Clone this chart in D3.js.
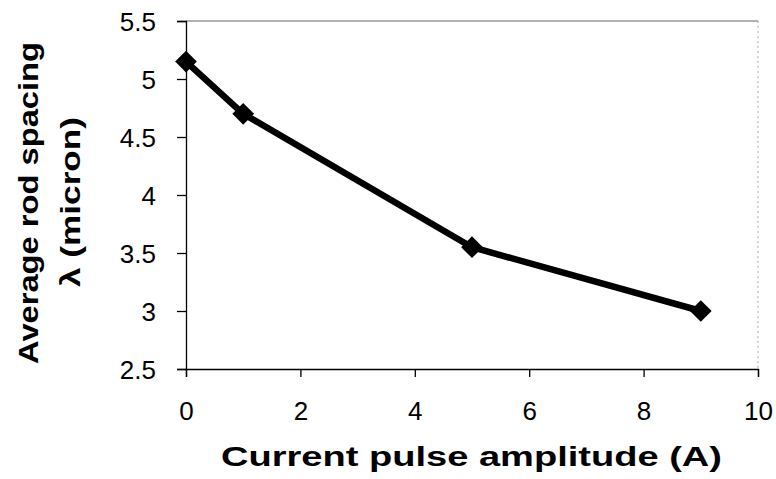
<!DOCTYPE html>
<html>
<head>
<meta charset="utf-8">
<script src="https://cdn.jsdelivr.net/npm/d3@7"></script>
<style>
  html, body { margin: 0; padding: 0; background: #fff; }
  svg { display: block; }
  text { font-family: Arial, "Liberation Sans", Helvetica, sans-serif; fill: #000; }
</style>
</head>
<body>
<svg id="chart" width="776" height="479"></svg>
<script>
// Data
const currentAmps = [0, 1, 5, 9];
const rodSpacing = [5.15, 4.70, 3.55, 3.00];
const xTicks = [0, 2, 4, 6, 8, 10];
const yTicks = [2.5, 3, 3.5, 4, 4.5, 5, 5.5];
const xTitle = "Current pulse amplitude (A)";
const yTitleLines = ["Average rod spacing", "\u03BB (micron)"];

(function () {
const svg = d3.select("#chart");
const pLeft = 186, pRight = 758, pTop = 21, pBottom = 369;

const x = d3.scaleLinear().domain([0, 10]).range([pLeft, pRight]);
const y = d3.scaleLinear().domain([2.5, 5.5]).range([pBottom, pTop]);

// Frame: faint top and right border
svg.append("line").attr("x1", pLeft).attr("x2", pRight).attr("y1", pTop).attr("y2", pTop)
  .attr("stroke", "#666").attr("stroke-width", 1.2);
svg.append("line").attr("x1", pRight).attr("x2", pRight).attr("y1", pTop).attr("y2", pBottom)
  .attr("stroke", "#aaa").attr("stroke-width", 1).attr("stroke-dasharray", "2,3");

// Y axis
const yAxis = d3.axisLeft(y).tickValues(yTicks).tickSize(9).tickPadding(21)
  .tickFormat(d3.format("~g"));
const gy = svg.append("g").attr("transform", `translate(${pLeft},0)`).call(yAxis);
gy.select(".domain").attr("stroke", "#000").attr("stroke-width", 1.3);
gy.selectAll(".tick line").attr("stroke", "#000").attr("stroke-width", 1.3);
gy.selectAll(".tick text").style("font-size", "26px").attr("dy", "0.36em")
  .attr("fill", "#000");

// X axis
const xAxis = d3.axisBottom(x).tickValues(xTicks).tickSize(8).tickPadding(25)
  .tickFormat(d3.format("d"));
const gx = svg.append("g").attr("transform", `translate(0,${pBottom})`).call(xAxis);
gx.select(".domain").attr("stroke", "#000").attr("stroke-width", 1.3);
gx.selectAll(".tick line").attr("stroke", "#000").attr("stroke-width", 1.3);
gx.selectAll(".tick text").style("font-size", "26px").attr("fill", "#000");

// Axis titles
svg.append("text")
  .attr("x", 471.5).attr("y", 466)
  .attr("text-anchor", "middle")
  .attr("textLength", 501).attr("lengthAdjust", "spacingAndGlyphs")
  .style("font-size", "27px").style("font-weight", "bold")
  .text(xTitle);

svg.append("text")
  .attr("transform", "translate(38,203) rotate(-90)")
  .attr("text-anchor", "middle")
  .attr("textLength", 322).attr("lengthAdjust", "spacingAndGlyphs")
  .style("font-size", "28px").style("font-weight", "bold")
  .text(yTitleLines[0]);

svg.append("text")
  .attr("transform", "translate(80,202) rotate(-90)")
  .attr("text-anchor", "middle")
  .attr("textLength", 170).attr("lengthAdjust", "spacingAndGlyphs")
  .style("font-size", "28px").style("font-weight", "bold")
  .text(yTitleLines[1]);

// Line
const pts = currentAmps.map((a, i) => [a, rodSpacing[i]]);
svg.append("path")
  .datum(pts)
  .attr("fill", "none")
  .attr("stroke", "#000")
  .attr("stroke-width", 6.5)
  .attr("stroke-linejoin", "round")
  .attr("d", d3.line().x(d => x(d[0])).y(d => y(d[1])));

// Diamond markers
const diamond = d3.symbol().type(d3.symbolDiamond2).size(300);
svg.selectAll(".marker")
  .data(pts)
  .join("path")
  .attr("class", "marker")
  .attr("transform", d => `translate(${x(d[0])},${y(d[1])})`)
  .attr("d", diamond)
  .attr("fill", "#000");
})();
</script>
</body>
</html>
